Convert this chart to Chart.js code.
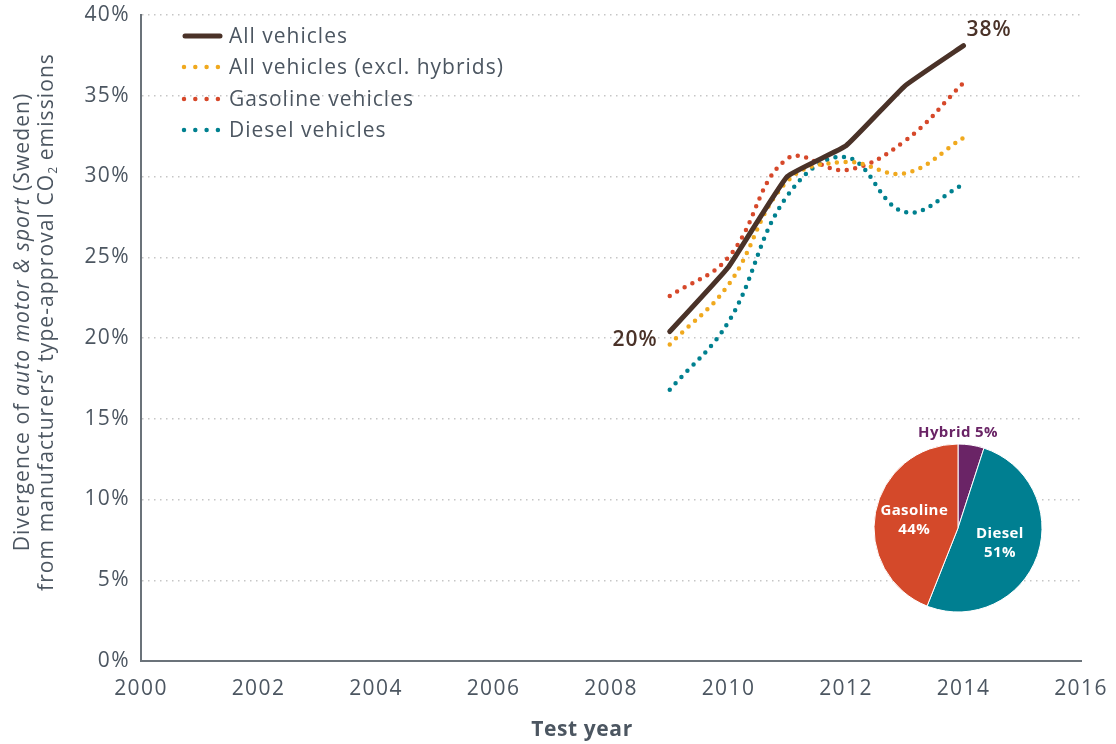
<!DOCTYPE html>
<html>
<head>
<meta charset="utf-8">
<script src="https://cdn.jsdelivr.net/npm/chart.js@4.4.1/dist/chart.umd.min.js"></script>
<style>
  html, body { margin: 0; padding: 0; background: #fff; }
  #wrap { position: relative; width: 1116px; height: 744px; font-family: "Open Sans", sans-serif; color: #4c5661; }
  #main { position: absolute; left: 0; top: 0; }
  #pie { position: absolute; left: 838px; top: 408px; }
  .ytitle {
    position: absolute; left: 33px; top: 322px; width: 640px;
    transform: translate(-50%, -50%) rotate(-90deg);
    text-align: center; font-size: 21px; line-height: 24px; white-space: nowrap; letter-spacing: 1.1px;
  }
  .ytitle sub { font-size: 12px; vertical-align: -4px; line-height: 0; letter-spacing: 0; }
  .xtitle {
    position: absolute; left: 582px; top: 728px; transform: translate(-50%, -50%);
    font-size: 21px; font-weight: 700; white-space: nowrap; letter-spacing: 0.6px;
  }
</style>
</head>
<body>
<div id="wrap">
  <canvas id="main" width="1116" height="744"></canvas>
  <canvas id="pie" width="240" height="240"></canvas>
  <div class="ytitle">Divergence of <i>auto motor &amp; sport</i> (Sweden)<br>from manufacturers’ type-approval CO<sub>2</sub> emissions</div>
  <div class="xtitle">Test year</div>
</div>
<script>
// values
const years = [2009, 2010, 2011, 2012, 2013, 2014];
const allVehicles = [20.4, 24.4, 30.0, 31.9, 35.6, 38.1];
const exclHybrids = [19.6, 23.3, 29.7, 30.9, 30.2, 32.4];
const gasoline = [22.6, 25.0, 31.1, 30.4, 32.2, 35.8];
const diesel = [16.8, 21.0, 28.8, 31.2, 27.8, 29.5];

const seriesNames = ['All vehicles', 'All vehicles (excl. hybrids)', 'Gasoline vehicles', 'Diesel vehicles'];

const fuelLabels = ['Hybrid', 'Diesel', 'Gasoline'];
const fuelShares = [5, 51, 44];

const xTicks = [2000, 2002, 2004, 2006, 2008, 2010, 2012, 2014, 2016];

const TEXT = '#4c5661';
const BROWN = '#4a3228';
const FONT = '"Open Sans", sans-serif';

function toPoints(values) {
    return values.map((v, i) => ({ x: years[i], y: v }));
}

function dotted(label, values, color) {
    return {
        label: label,
        data: toPoints(values),
        borderColor: color,
        backgroundColor: color,
        borderWidth: 4.5,
        borderDash: [0, 8.6],
        borderCapStyle: 'round',
        tension: 0.4,
        pointRadius: 0,
        fill: false
    };
}

// wider tracking, closer to the original typeface
const spacingPlugin = {
    id: 'spacing',
    beforeDraw(chart) {
        chart.ctx.letterSpacing = '1.4px';
    }
};

// legend drawn inside the plot, top left
const legendPlugin = {
    id: 'insideLegend',
    afterDraw(chart) {
        const ctx = chart.ctx;
        const rowY = [36, 67, 99, 130];
        ctx.save();
        chart.data.datasets.forEach((ds, i) => {
            const y = rowY[i];
            ctx.beginPath();
            ctx.strokeStyle = ds.borderColor;
            ctx.lineWidth = ds.borderWidth;
            ctx.lineCap = 'round';
            if (ds.borderDash) {
                ctx.setLineDash([0, 11.3]);
                ctx.moveTo(184, y);
                ctx.lineTo(218, y);
            } else {
                ctx.setLineDash([]);
                ctx.moveTo(185, y);
                ctx.lineTo(220, y);
            }
            ctx.stroke();
            ctx.setLineDash([]);
            ctx.fillStyle = TEXT;
            ctx.font = '21px ' + FONT;
            ctx.letterSpacing = '1px';
            ctx.textAlign = 'left';
            ctx.textBaseline = 'middle';
            ctx.fillText(ds.label, 229, y + 1);
        });
        ctx.restore();
    }
};

// start and end values of the main series
const endLabelPlugin = {
    id: 'endLabels',
    afterDatasetsDraw(chart) {
        const ctx = chart.ctx;
        const xs = chart.scales.x;
        const ys = chart.scales.y;
        const first = allVehicles[0];
        const last = allVehicles[allVehicles.length - 1];
        ctx.save();
        ctx.fillStyle = BROWN;
        ctx.font = '600 21px ' + FONT;
        ctx.letterSpacing = '1px';
        ctx.textBaseline = 'middle';
        ctx.textAlign = 'right';
        ctx.fillText(Math.round(first) + '%', xs.getPixelForValue(years[0]) - 12, ys.getPixelForValue(first) + 8);
        ctx.textAlign = 'left';
        ctx.fillText(Math.round(last) + '%', xs.getPixelForValue(years[years.length - 1]) + 3, ys.getPixelForValue(last) - 16);
        ctx.restore();
    }
};

new Chart(document.getElementById('main'), {
    type: 'line',
    data: {
        datasets: [
            {
                label: seriesNames[0],
                data: toPoints(allVehicles),
                borderColor: BROWN,
                backgroundColor: BROWN,
                borderWidth: 5,
                borderCapStyle: 'round',
                borderJoinStyle: 'round',
                tension: 0.1,
                pointRadius: 0,
                fill: false
            },
            dotted(seriesNames[1], exclHybrids, '#f0a91e'),
            dotted(seriesNames[2], gasoline, '#d6482a'),
            dotted(seriesNames[3], diesel, '#00808f')
        ]
    },
    options: {
        responsive: false,
        animation: false,
        layout: { padding: { top: 15, right: 35, left: 0, bottom: 0 } },
        plugins: {
            legend: { display: false },
            tooltip: { enabled: false }
        },
        scales: {
            x: {
                type: 'linear',
                min: 2000,
                max: 2016,
                afterBuildTicks: (scale) => { scale.ticks = xTicks.map(v => ({ value: v })); },
                afterFit: (scale) => {
                    scale.height = 83;
                    scale.paddingLeft = 0;
                    scale.paddingRight = 0;
                },
                grid: { display: false, drawTicks: false },
                border: { display: true, color: '#6b737a', width: 2 },
                ticks: {
                    color: TEXT,
                    font: { family: FONT, size: 21 },
                    padding: 15,
                    maxRotation: 0,
                    callback: (v) => String(v)
                }
            },
            y: {
                min: 0,
                max: 40,
                afterFit: (scale) => {
                    scale.width = 141;
                    scale.paddingTop = 0;
                    scale.paddingBottom = 0;
                },
                grid: {
                    drawTicks: false,
                    color: (c) => c.tick && c.tick.value === 0 ? 'rgba(0,0,0,0)' : '#c6c6c6',
                    lineWidth: 1.5
                },
                border: { display: true, color: '#6b737a', width: 2, dash: [1.5, 4.5] },
                ticks: {
                    stepSize: 5,
                    color: TEXT,
                    font: { family: FONT, size: 21 },
                    padding: 11,
                    callback: (v) => v + '%'
                }
            }
        }
    },
    plugins: [spacingPlugin, legendPlugin, endLabelPlugin]
});

// fuel mix pie
const pieLabelPlugin = {
    id: 'pieLabels',
    afterDraw(chart) {
        const ctx = chart.ctx;
        const meta = chart.getDatasetMeta(0);
        ctx.save();
        ctx.textAlign = 'center';
        ctx.textBaseline = 'middle';
        ctx.font = 'bold 15px ' + FONT;
        ctx.letterSpacing = '0.4px';
        meta.data.forEach((arc, i) => {
            const p = arc.getProps(['x', 'y', 'startAngle', 'endAngle', 'outerRadius']);
            const name = fuelLabels[i];
            const pct = fuelShares[i] + '%';
            if (fuelShares[i] < 10) {
                ctx.fillStyle = '#6a2466';
                ctx.fillText(name + ' ' + pct, p.x, p.y - p.outerRadius - 11);
                return;
            }
            const mid = (p.startAngle + p.endAngle) / 2;
            const r = p.outerRadius * 0.53;
            const cx = p.x + Math.cos(mid) * r;
            const cy = p.y + Math.sin(mid) * r;
            ctx.fillStyle = '#ffffff';
            ctx.fillText(name, cx, cy - 9);
            ctx.fillText(pct, cx, cy + 10);
        });
        ctx.restore();
    }
};

new Chart(document.getElementById('pie'), {
    type: 'pie',
    data: {
        labels: fuelLabels,
        datasets: [{
            data: fuelShares,
            backgroundColor: ['#6a2466', '#007f91', '#d4492a'],
            borderColor: '#ffffff',
            borderWidth: 1
        }]
    },
    options: {
        responsive: false,
        animation: false,
        radius: 84,
        layout: { padding: 0 },
        plugins: {
            legend: { display: false },
            tooltip: { enabled: false }
        }
    },
    plugins: [pieLabelPlugin]
});
</script>
</body>
</html>
